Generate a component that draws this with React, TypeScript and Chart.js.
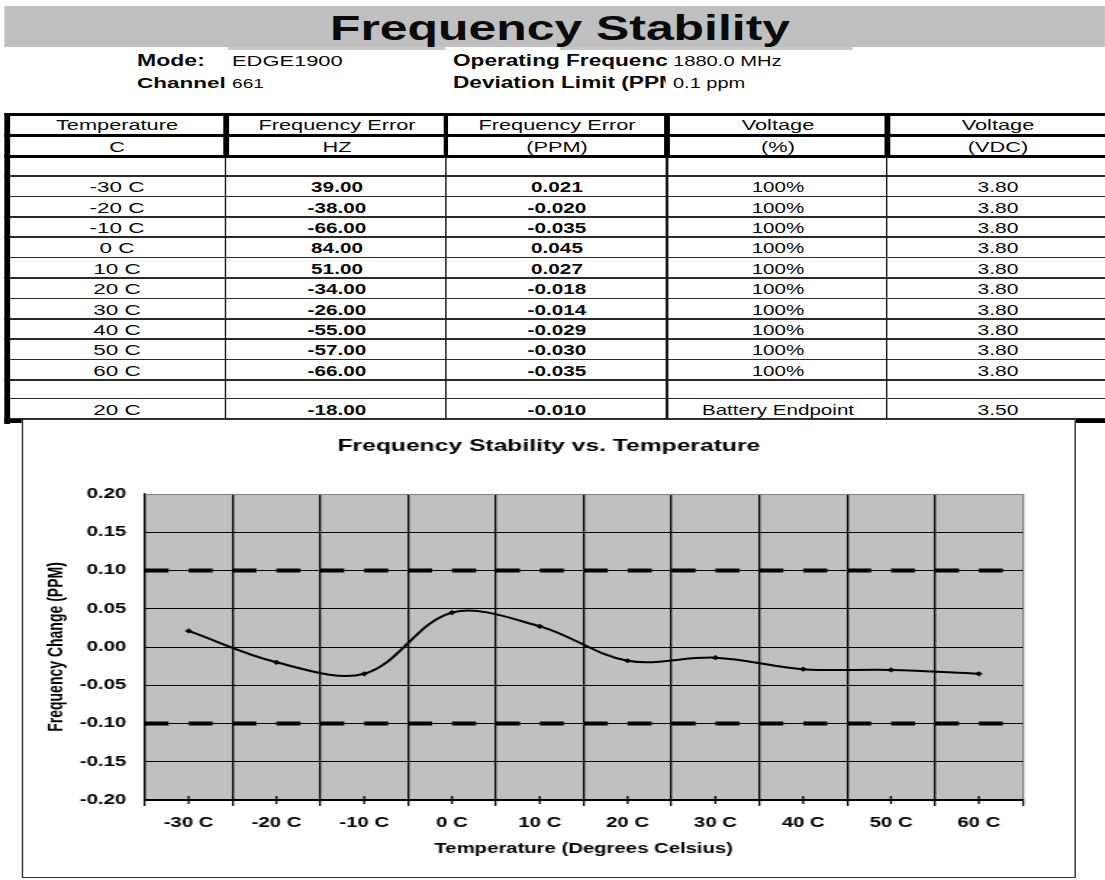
import React, { useEffect, useRef } from 'react';
import { Chart, registerables } from 'chart.js';

Chart.register(...registerables);

// ---------------- data ----------------
const temperatures = ['-30 C', '-20 C', '-10 C', '0 C', '10 C', '20 C', '30 C', '40 C', '50 C', '60 C'];
const freqErrorHz = [39, -38, -66, 84, 51, -34, -26, -55, -57, -66];
const freqErrorPpm = [0.021, -0.02, -0.035, 0.045, 0.027, -0.018, -0.014, -0.029, -0.03, -0.035];
const voltagePercent = ['100%', '100%', '100%', '100%', '100%', '100%', '100%', '100%', '100%', '100%'];
const voltageVdc = [3.8, 3.8, 3.8, 3.8, 3.8, 3.8, 3.8, 3.8, 3.8, 3.8];

const endpointTemperature = '20 C';
const endpointHz = -18;
const endpointPpm = -0.01;
const endpointVoltageLabel = 'Battery Endpoint';
const endpointVdc = 3.5;

const headerRow1 = ['Temperature', 'Frequency Error', 'Frequency Error', 'Voltage', 'Voltage'];
const headerRow2 = ['C', 'HZ', '(PPM)', '(%)', '(VDC)'];

const deviationLimitPpm = 0.1;
const yMin = -0.2;
const yMax = 0.2;
const yStep = 0.05;

const pageTitle = 'Frequency Stability';
const chartTitle = 'Frequency Stability vs. Temperature';
const yAxisTitle = 'Frequency Change (PPM)';
const xAxisTitle = 'Temperature (Degrees Celsius)';

// ---------------- layout ----------------
const S = 1.45; // horizontal stretch of the reference page
const X = (v: number) => v / S;
const FONT = '"Liberation Sans", Arial, Helvetica, sans-serif';

const colCenters = [117, 337, 557, 778, 998];
const colBounds = [226, 446, 667, 887];
const rowTop = 176;
const rowH = 20.4;

type TxtProps = {
  left?: number;
  center?: number;
  cy: number;
  size: number;
  bold?: boolean;
  clipW?: number;
  children: React.ReactNode;
};

function Txt({ left, center, cy, size, bold, clipW, children }: TxtProps) {
  const h = 24;
  const style: React.CSSProperties = {
    position: 'absolute',
    top: cy - h / 2,
    height: h,
    lineHeight: h + 'px',
    fontSize: size,
    fontWeight: bold ? 700 : 400,
    whiteSpace: 'nowrap',
    color: '#0a0a0a',
  };
  if (center !== undefined) {
    style.left = X(center) - 300;
    style.width = 600;
    style.textAlign = 'center';
  } else {
    style.left = X(left || 0);
  }
  if (clipW) {
    style.width = X(clipW);
    style.overflow = 'hidden';
  }
  return <div style={style}>{children}</div>;
}

function Rect({ x1, x2, y1, y2, color }: { x1: number; x2: number; y1: number; y2: number; color: string }) {
  return (
    <div
      style={{
        position: 'absolute',
        left: X(x1),
        width: X(x2 - x1),
        top: y1,
        height: y2 - y1,
        background: color,
      }}
    />
  );
}

function ChartCanvas() {
  const ref = useRef<HTMLCanvasElement>(null);
  useEffect(() => {
    const canvas = ref.current;
    if (!canvas) return;

    const plotBackground = {
      id: 'plotBackground',
      beforeDraw(chart: any) {
        const { ctx, chartArea: a } = chart;
        ctx.save();
        ctx.fillStyle = '#c0c0c0';
        ctx.fillRect(a.left, a.top, a.right - a.left, a.bottom - a.top);
        ctx.restore();
      },
    };

    const categoryTicks = {
      id: 'categoryTicks',
      afterDraw(chart: any) {
        const { ctx, chartArea: a } = chart;
        const xs = chart.scales.x;
        ctx.save();
        ctx.strokeStyle = '#000';
        ctx.lineWidth = 1.3;
        ctx.beginPath();
        for (let i = 0; i < temperatures.length; i++) {
          const px = xs.getPixelForValue(i);
          ctx.moveTo(px, a.bottom - 4);
          ctx.lineTo(px, a.bottom + 4);
        }
        ctx.stroke();
        ctx.restore();
      },
    };

    const axisFont = { family: FONT, size: 14, weight: 'bold' as const };

    const chart = new Chart(canvas, {
      type: 'line',
      data: {
        labels: temperatures,
        datasets: [
          {
            label: yAxisTitle,
            data: freqErrorPpm,
            xAxisID: 'x',
            yAxisID: 'y',
            borderColor: '#000',
            backgroundColor: '#000',
            borderWidth: 2,
            tension: 0.35,
            pointStyle: 'rectRot',
            pointRadius: 2.6,
            pointBorderWidth: 0,
            pointBackgroundColor: '#000',
            fill: false,
          },
          {
            label: 'Upper limit',
            data: [
              { x: 0, y: deviationLimitPpm },
              { x: 1, y: deviationLimitPpm },
            ],
            xAxisID: 'x2',
            yAxisID: 'y',
            borderColor: '#000',
            borderWidth: 4,
            borderDash: [16.5, 13.78],
            pointRadius: 0,
            tension: 0,
            fill: false,
          },
          {
            label: 'Lower limit',
            data: [
              { x: 0, y: -deviationLimitPpm },
              { x: 1, y: -deviationLimitPpm },
            ],
            xAxisID: 'x2',
            yAxisID: 'y',
            borderColor: '#000',
            borderWidth: 4,
            borderDash: [16.5, 13.78],
            pointRadius: 0,
            tension: 0,
            fill: false,
          },
        ] as any,
      },
      options: {
        responsive: false,
        animation: false,
        devicePixelRatio: 1,
        layout: { padding: 0 },
        plugins: {
          legend: { display: false },
          tooltip: { enabled: false },
          title: {
            display: true,
            text: chartTitle,
            color: '#000',
            font: { family: FONT, size: 17, weight: 'bold' },
            padding: { top: 16.8, bottom: 37.8 },
          },
        },
        scales: {
          x: {
            type: 'category',
            offset: true,
            grid: {
              offset: true,
              color: (c: any) => (c.type === 'tick' ? '#000' : '#808080'),
              tickColor: '#000',
              lineWidth: 1.3,
              drawTicks: true,
              tickLength: 6,
            },
            border: { display: true, color: '#000', width: 1.5 },
            ticks: {
              color: '#000',
              font: axisFont,
              padding: 8.6,
              maxRotation: 0,
              autoSkip: false,
            },
            title: {
              display: true,
              text: xAxisTitle,
              color: '#000',
              font: axisFont,
              padding: { top: 0, bottom: 20.6 },
            },
            afterFit: (s: any) => {
              s.height = 78;
            },
          },
          x2: { type: 'linear', display: false, min: 0, max: 1 },
          y: {
            type: 'linear',
            min: yMin,
            max: yMax,
            ticks: {
              stepSize: yStep,
              color: '#000',
              font: axisFont,
              padding: 12.8,
              callback: (v: any) => (Math.abs(Number(v)) < 1e-9 ? 0 : Number(v)).toFixed(2),
            },
            grid: {
              color: (c: any) => (c.tick && Math.abs(c.tick.value - yMax) < 1e-9 ? '#808080' : '#000'),
              lineWidth: 1,
              drawTicks: false,
            },
            border: { display: true, color: '#000', width: 1.2 },
            title: {
              display: true,
              text: yAxisTitle,
              color: '#000',
              font: axisFont,
              padding: { top: 15.7, bottom: 0 },
            },
            afterFit: (s: any) => {
              s.width = 84.8;
            },
          },
          y2: {
            type: 'linear',
            position: 'right',
            display: true,
            grid: { display: false, drawTicks: false },
            ticks: { display: false },
            border: { display: false },
            afterFit: (s: any) => {
              s.width = 36.7;
            },
          },
        } as any,
      },
      plugins: [plotBackground, categoryTicks],
    });
    return () => chart.destroy();
  }, []);

  return (
    <canvas
      ref={ref}
      width={727}
      height={459}
      style={{ position: 'absolute', left: 0, top: 0, width: 727, height: 459, display: 'block' }}
    />
  );
}

export default function App() {
  const dataRows = temperatures.map((t, i) => ({
    cells: [t, freqErrorHz[i].toFixed(2), freqErrorPpm[i].toFixed(3), voltagePercent[i], voltageVdc[i].toFixed(2)],
    cy: rowTop + rowH * i + rowH / 2 + 1,
  }));
  const endpointCells = [
    endpointTemperature,
    endpointHz.toFixed(2),
    endpointPpm.toFixed(3),
    endpointVoltageLabel,
    endpointVdc.toFixed(2),
  ];
  const cellSize = [15.5, 14.3, 14.3, 14.2, 14.5];
  const cellBold = [false, true, true, false, false];

  const thinLines: number[] = [];
  for (let i = 0; i <= temperatures.length; i++) thinLines.push(rowTop + rowH * i);
  thinLines.push(398.5, 418.3);

  return (
    <div
      style={{
        position: 'absolute',
        left: 0,
        top: 0,
        width: X(1105),
        height: 880,
        overflow: 'hidden',
        transform: `scaleX(${S})`,
        transformOrigin: '0 0',
        fontFamily: FONT,
        background: '#fff',
      }}
    >
      {/* title banner */}
      <Rect x1={5} x2={1105} y1={6} y2={47} color="#c0c0c0" />
      <Rect x1={228} x2={445} y1={47} y2={50} color="#c8c8c8" />
      <Rect x1={560} x2={853} y1={47} y2={49.5} color="#c8c8c8" />
      <Txt center={560} cy={27.5} size={34.4} bold>
        {pageTitle}
      </Txt>

      {/* header info */}
      <Txt left={137} cy={60.5} size={15.9} bold>Mode:</Txt>
      <Txt left={232} cy={60.5} size={15.1}>EDGE1900</Txt>
      <Txt left={453} cy={60.5} size={15.6} bold clipW={215}>Operating Frequency</Txt>
      <Txt left={673} cy={61} size={13.9}>1880.0 MHz</Txt>
      <Txt left={137} cy={83} size={15.5} bold>Channel</Txt>
      <Txt left={232} cy={83.5} size={13.2}>661</Txt>
      <Txt left={453} cy={83} size={15.6} bold clipW={212}>Deviation Limit (PPM)</Txt>
      <Txt left={673} cy={83.5} size={13.8}>0.1 ppm</Txt>

      {/* table lines */}
      <Rect x1={5} x2={1110} y1={112.5} y2={115.5} color="#000" />
      <Rect x1={5} x2={1110} y1={134} y2={137} color="#000" />
      <Rect x1={5} x2={1110} y1={155} y2={158} color="#000" />
      {thinLines.map((y, i) => (
        <Rect key={'h' + i} x1={5} x2={1110} y1={y - 0.75} y2={y + 0.75} color="#2a2a2a" />
      ))}
      <Rect x1={5} x2={1110} y1={419} y2={422.5} color="#000" />
      <Rect x1={5} x2={9.8} y1={112.5} y2={424} color="#000" />
      {colBounds.map((x, i) => (
        <React.Fragment key={'v' + i}>
          <Rect x1={x - 2.4} x2={x + 2.6} y1={112.5} y2={158} color="#000" />
          <Rect x1={x - 0.9} x2={x + 0.9} y1={157} y2={419} color="#1a1a1a" />
        </React.Fragment>
      ))}

      {/* table text */}
      {headerRow1.map((t, i) => (
        <Txt key={'a' + i} center={colCenters[i]} cy={124.8} size={15}>
          {t}
        </Txt>
      ))}
      {headerRow2.map((t, i) => (
        <Txt key={'b' + i} center={colCenters[i]} cy={146.5} size={15}>
          {t}
        </Txt>
      ))}
      {dataRows.map((r, ri) =>
        r.cells.map((c, ci) => (
          <Txt key={'d' + ri + '_' + ci} center={colCenters[ci]} cy={r.cy} size={cellSize[ci]} bold={cellBold[ci]}>
            {c}
          </Txt>
        ))
      )}
      {endpointCells.map((c, ci) => (
        <Txt key={'e' + ci} center={colCenters[ci]} cy={409.5} size={cellSize[ci]} bold={cellBold[ci]}>
          {c}
        </Txt>
      ))}

      {/* chart box */}
      <Rect x1={1075} x2={1110} y1={419} y2={422.5} color="#000" />
      <div
        style={{
          position: 'absolute',
          left: X(22),
          top: 419,
          width: X(1054),
          height: 459,
          background: '#fff',
        }}
      >
        <div
          style={{
            position: 'absolute',
            left: 0,
            top: 0,
            right: 0,
            bottom: 0,
            boxSizing: 'border-box',
            borderStyle: 'solid',
            borderColor: '#333',
            borderWidth: '1.2px 1.4px 1.6px 1.4px',
          }}
        />
        <ChartCanvas />
      </div>
    </div>
  );
}
